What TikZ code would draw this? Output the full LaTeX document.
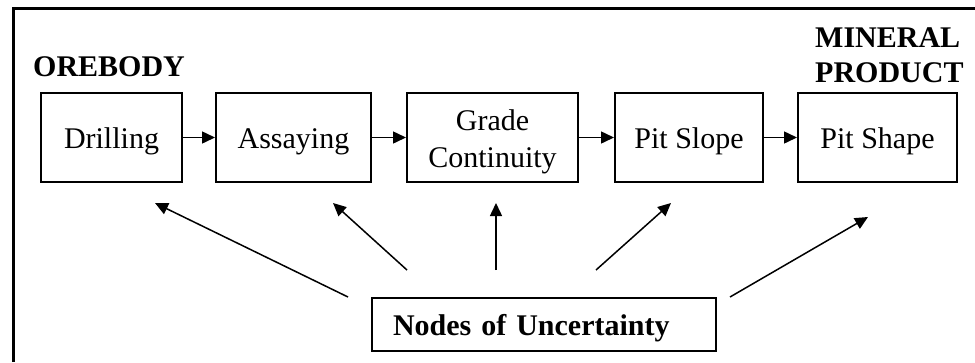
\documentclass[tikz,border=0pt]{standalone}
\usepackage{fontspec}
\setmainfont{Liberation Serif}
\usetikzlibrary{arrows.meta}

\tikzset{
  stage/.style={draw, line width=2bp, rectangle, inner sep=0pt,
    minimum height=89bp, text height=21bp, text depth=0bp,
    font=\fontsize{30bp}{37bp}\selectfont},
  flow/.style={line width=1.5bp, -{Triangle[length=13bp,width=12bp]}},
  label/.style={inner sep=0pt, font=\fontsize{30bp}{35bp}\selectfont\bfseries},
}

\begin{document}
\begin{tikzpicture}[x=1bp, y=-1bp]
  \useasboundingbox (0,0) rectangle (975,362);

  % open frame: top and left edges
  \draw[line width=3bp] (13,362) -- (13,8.5) -- (975,8.5);

  % process chain
  \node[stage, minimum width=141bp] (drill) at (111.5,137.5) {Drilling};
  \node[stage, minimum width=155bp] (assay) at (293.5,137.5) {Assaying};
  \node[stage, minimum width=171bp, align=center, text height=59bp, text depth=0bp]
       (grade) at (492.5,137.5) {Grade\\Continuity};
  \node[stage, minimum width=148bp] (slope) at (689,137.5) {Pit Slope};
  \node[stage, minimum width=159bp] (shape) at (877.5,137.5) {Pit Shape};

  \draw[flow] (drill) -- (assay);
  \draw[flow] (assay) -- (grade);
  \draw[flow] (grade) -- (slope);
  \draw[flow] (slope) -- (shape);

  % end labels
  \node[label, anchor=base west] (ore) at (33,76) {OREBODY};
  \node[label, anchor=base west, align=left] (mineral) at (815,82) {MINERAL\\PRODUCT};

  % uncertainty source
  \node[draw, line width=2bp, inner xsep=21bp, inner ysep=0pt,
        minimum height=53bp, text width=302bp, align=left,
        text height=21bp, text depth=0bp,
        font=\fontsize{30bp}{35bp}\selectfont\bfseries]
       (unc) at (544,324.5) {Nodes of Uncertainty};

  \coordinate (u1) at (348,297);  \coordinate (d1) at (155,203);
  \coordinate (u2) at (407,270);  \coordinate (d2) at (333,203);
  \coordinate (u3) at (496,270);  \coordinate (d3) at (496,203);
  \coordinate (u4) at (596,270);  \coordinate (d4) at (671,203);
  \coordinate (u5) at (730,297);  \coordinate (d5) at (868,217);

  \foreach \i in {1,...,5} \draw[flow] (u\i) -- (d\i);
\end{tikzpicture}
\end{document}
